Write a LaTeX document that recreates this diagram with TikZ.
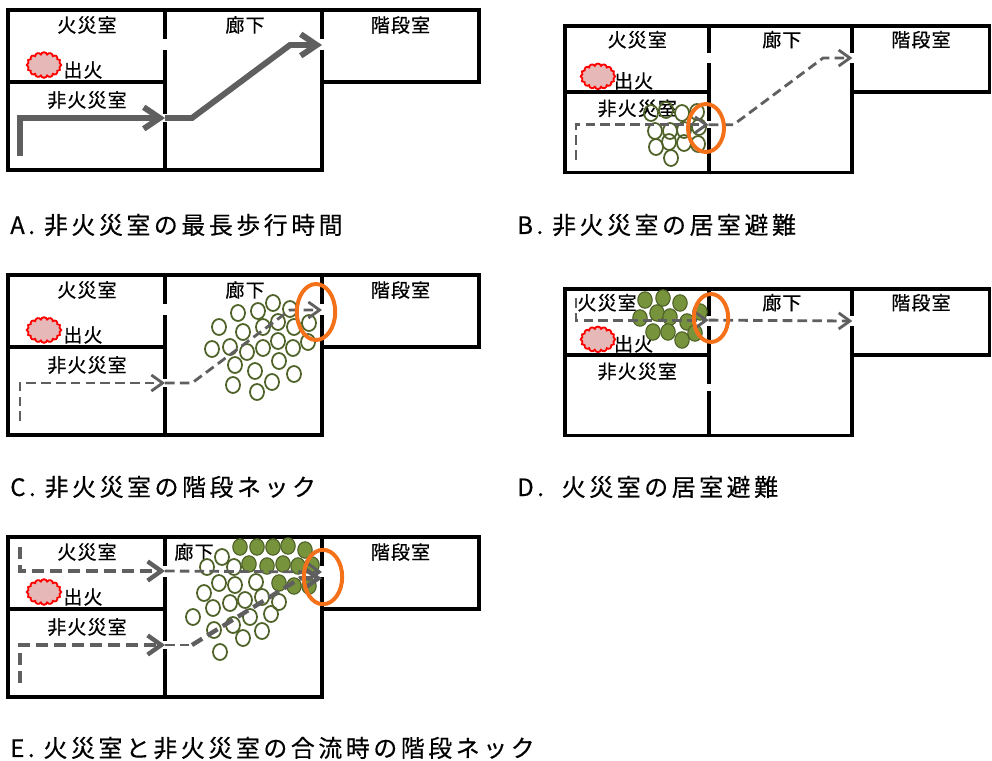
\documentclass[tikz,border=0pt]{standalone}
\usepackage{fontspec}
\newfontfamily\roomfont[LetterSpace=6,FakeBold=0.6]{Noto Sans CJK JP}
\newfontfamily\capfont[LetterSpace=15,FakeBold=0.4]{Noto Sans CJK JP}
\usetikzlibrary{arrows.meta,shapes.symbols}

\definecolor{routegray}{RGB}{95,95,95}
\definecolor{neckorange}{RGB}{245,113,25}
\definecolor{olivedark}{RGB}{79,98,40}
\definecolor{olivefill}{RGB}{119,147,60}
\definecolor{firepink}{RGB}{230,185,184}

\tikzset{
    wall/.style = {
        line width=2.7pt,
        line cap=rect,
        },
    room label/.style = {
        font=\roomfont\fontsize{13.5}{14}\selectfont,
        inner sep=0pt,
        },
    caption/.style = {
        font=\capfont\fontsize{17}{18}\selectfont,
        anchor=west,
        inner sep=0pt,
        },
    fire/.style = {
        cloud, cloud puffs=16, cloud puff arc=150, cloud ignores aspect,
        draw=red, fill=firepink, line width=1.3pt,
        minimum width=8.6mm, minimum height=6.4mm, inner sep=0pt,
        },
    person/.style = {
        draw=olivedark, line width=1.25pt,
        },
    person jam/.style = {
        draw=olivedark, fill=olivefill, line width=0.8pt,
        },
    route/.style = {
        draw=routegray, line width=4.2pt,
        -{Straight Barb[length=4mm,width=5.4mm]},
        },
    route dash/.style = {
        draw=routegray, line width=2pt,
        dash pattern=on 2.4mm off 1.3mm,
        -{Straight Barb[length=2.8mm,width=4mm]},
        },
    route bold/.style = {
        route dash, line width=3.1pt,
        dash pattern=on 3mm off 1.5mm,
        -{Straight Barb[length=3.4mm,width=4.8mm]},
        },
    neck/.style = {
        draw=neckorange, line width=2.8pt,
        },
}

% one floor: #1 x of the fire room label, #2 x of the corridor label, #3 stair width
\newcommand\floorplan[3]{
    \draw[wall] (0,160) -- (0,0) -- (314+#3,0) -- (314+#3,72) -- (314,72)
                (0,160) -- (314,160)
                (0,72) -- (157,72);
    \draw[wall] (157,0) -- (157,27) (157,42) -- (157,102) (157,114) -- (157,160);
    \draw[wall] (314,0) -- (314,27) (314,42) -- (314,160);
    \node[room label] (fireroom) at (#1,15) {火災室};
    \node[room label] (hall) at (#2,15) {廊下};
    \node[room label] (stair) at (314+#3/2,15) {階段室};
    \node[fire] (blaze) at (36,55) {};
    \node[room label] (outbreak) at (75,60) {出火};
    \node[room label] (otherroom) at (79,90) {非火災室};
    \coordinate (far) at (12,146);
    \coordinate (ffar) at (12,10);
    \coordinate (door) at (157,108);
    \coordinate (fdoor) at (157,34);
    \coordinate (bend) at (184,108);
    \coordinate (turn) at (282,35);
    \coordinate (exit) at (314,35);
}

\begin{document}
\begin{tikzpicture}[x=0.25mm, y=-0.25mm]
    \fill[white] (0,0) rectangle (992,761);
    \useasboundingbox (0,0) rectangle (992,761);

    % A
    \begin{scope}[shift={(8,10)}, name prefix=a-]
        \floorplan{79}{237}{157}
    \end{scope}
    \draw[route] (a-far) |- (a-door);
    \draw[route] (a-door) -- (a-bend) -- (a-turn) -- (a-exit);
    \node[caption] (capA) at (10,225) {A. 非火災室の最長歩行時間};

    % B
    \begin{scope}[shift={(565,26)}, scale=0.915, name prefix=b-]
        \floorplan{79}{237}{150}
    \end{scope}
    \foreach \x/\y in {651/113,666/110,682/113,697/112,655/131,670/131,684/130,
                       699/127,656/147,669/142,684/143,698/144,671/158}
        \draw[person] (\x,\y) ellipse [x radius=1.75mm, y radius=2mm];
    \draw[route dash] (b-far) |- (b-door);
    \draw[route dash] (b-door) -- (b-bend) -- (b-turn) -- (b-exit);
    \draw[neck] (706,128) ellipse [x radius=4.5mm, y radius=6mm];
    \node[caption] (capB) at (517,225) {B. 非火災室の居室避難};

    % C
    \begin{scope}[shift={(8,275)}, name prefix=c-]
        \floorplan{79}{237}{157}
    \end{scope}
    \foreach \x/\y in {238/313,258/311,273/303,290/309,219/327,243/332,263/327,
                       278/322,294/327,309/323,212/349,230/347,247/352,263/348,
                       278/341,293/348,308/342,235/365,255/371,279/361,233/385,
                       257/392,272/382,294/374}
        \draw[person] (\x,\y) ellipse [x radius=1.75mm, y radius=2mm];
    \draw[route dash] (c-far) |- (c-door);
    \draw[route dash] (c-door) -- (c-bend) -- (c-turn) -- (c-exit);
    \draw[neck] (316,312) ellipse [x radius=4.8mm, y radius=7mm];
    \node[caption] (capC) at (10,487) {C. 非火災室の階段ネック};

    % D
    \begin{scope}[shift={(565,289)}, scale=0.915, name prefix=d-]
        \floorplan{46}{237}{150}
    \end{scope}
    \foreach \x/\y in {645/300,663/298,680/303,640/318,657/313,670/317,687/322,
                       700/312,653/332,668/332,682/340,695/333}
        \draw[person jam] (\x,\y) ellipse [x radius=1.8mm, y radius=2.05mm];
    \draw[route dash] (d-ffar) |- (d-fdoor);
    \draw[route dash] (d-fdoor) -- (d-exit);
    \draw[neck] (711,318) ellipse [x radius=4.3mm, y radius=6mm];
    \node[caption] (capD) at (517,487) {D.\ \ 火災室の居室避難};

    % E
    \begin{scope}[shift={(8,537)}, name prefix=e-]
        \floorplan{79}{186}{157}
    \end{scope}
    \foreach \x/\y in {222/557,207/567,234/567,219/583,235/585,256/582,204/593,
                       230/603,245/600,262/597,279/602,193/617,213/608,250/617,
                       271/614,214/630,233/625,262/631,243/638,220/652}
        \draw[person] (\x,\y) ellipse [x radius=1.75mm, y radius=2mm];
    \foreach \x/\y in {240/547,257/547,273/547,288/546,305/550,249/564,267/566,
                       283/564,298/566,312/565,279/583,294/586,309/586}
        \draw[person jam] (\x,\y) ellipse [x radius=1.8mm, y radius=2.05mm];
    \draw[route bold] (e-ffar) |- (e-fdoor);
    \draw[route dash] (e-fdoor) -- (e-exit);
    \draw[route bold] (e-far) |- (e-door);
    \draw[route dash, -] (e-door) -- (e-bend);
    \draw[route bold] (e-bend) -- ([xshift=2.5mm,yshift=-1.6mm]e-turn)
                      -- ([yshift=-1.6mm]e-exit);
    \draw[neck] (323,577) ellipse [x radius=4.8mm, y radius=6.8mm];
    \node[caption] (capE) at (10,748) {E. 火災室と非火災室の合流時の階段ネック};
\end{tikzpicture}
\end{document}
